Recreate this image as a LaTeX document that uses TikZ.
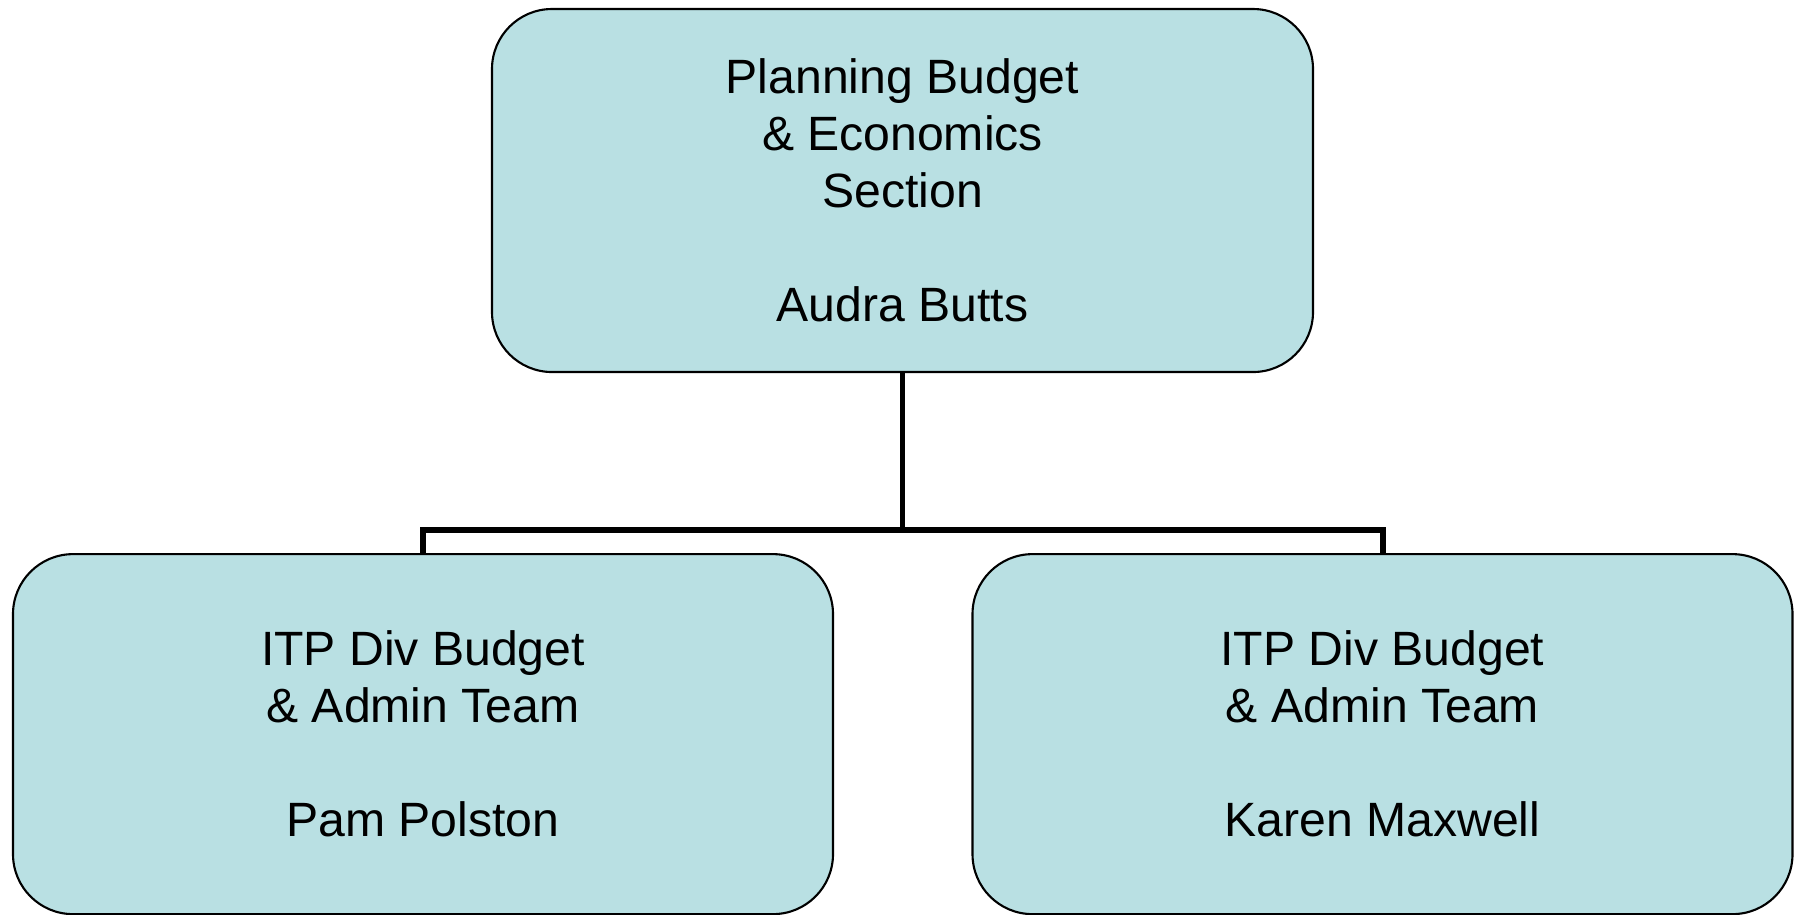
\documentclass[tikz,border=0pt]{standalone}
\usepackage{fontspec}
\setmainfont{Liberation Sans}
\usepackage{tikz}
\usetikzlibrary{
  arrows.meta,
  positioning
}
\definecolor{boxcyan}{RGB}{185,224,227}

\begin{document}
\begin{tikzpicture}
  \useasboundingbox (0,0) rectangle (17.95,-9.14);
  % Section head
  \node[draw=black, line width=0.6pt, fill=boxcyan, rounded corners=0.6cm, minimum width=8.21cm,
        minimum height=3.63cm, align=center, font=\fontsize{13.7}{16.2}\selectfont]
        (pbe) at (9.025,-1.905) {Planning Budget\\ \& Economics\\ Section\\[16.2pt] Audra Butts};
  % Left team
  \node[draw=black, line width=0.6pt, fill=boxcyan, rounded corners=0.6cm, minimum width=8.2cm,
        minimum height=3.6cm, align=center, font=\fontsize{13.7}{16.2}\selectfont,
        below=1.8cm of pbe, xshift=-4.795cm] (itpl) {ITP Div Budget\\ \& Admin Team\\[16.2pt] Pam Polston};
  % Right team
  \node[draw=black, line width=0.6pt, fill=boxcyan, rounded corners=0.6cm, minimum width=8.2cm,
        minimum height=3.6cm, align=center, font=\fontsize{13.7}{16.2}\selectfont,
        below=1.8cm of pbe, xshift=4.8cm] (itpr) {ITP Div Budget\\ \& Admin Team\\[16.2pt] Karen Maxwell};
  % Connectors
  \draw[line width=1.7pt] (pbe.south) -- ++(0,-1.57) -| (itpl.north);
  \draw[line width=1.7pt] (pbe.south) -- ++(0,-1.57) -| (itpr.north);
\end{tikzpicture}
\end{document}
